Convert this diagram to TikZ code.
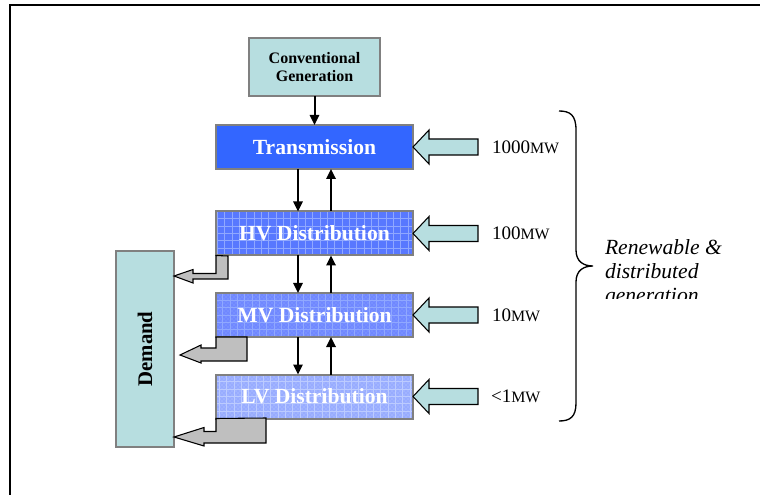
\documentclass[tikz,border=0pt]{standalone}
\usepackage{fontspec}
\setmainfont{Liberation Serif}[ItalicFont=Liberation Serif Italic, BoldFont=Liberation Serif Bold]
\usepackage{graphicx}
\usetikzlibrary{arrows.meta,patterns}

\definecolor{paleteal}{HTML}{B7DEE0}
\definecolor{transblue}{HTML}{3366FF}
\definecolor{hvblue}{HTML}{5878FF}
\definecolor{mvblue}{HTML}{7088FF}
\definecolor{lvblue}{HTML}{98ACFF}
\definecolor{gridblue}{HTML}{90A8FF}
\definecolor{framegray}{HTML}{808080}

\begin{document}
\begin{tikzpicture}[x=0.75pt, y=-0.75pt]
\tikzset{ >={Triangle[length=7.5pt,width=7pt]}, inner sep=0pt, outer sep=0pt,
  level/.style={draw=framegray, line width=1.5pt, minimum width=147.75pt, minimum height=33pt,
    text=white, font=\fontsize{16.2}{18}\selectfont\bfseries},
  paleteal box/.style={fill=paleteal, draw=framegray, line width=1.5pt},
  gridded/.style={path picture={\draw[#1, line width=0.5pt]
    (path picture bounding box.south west) grid[step=5.5pt] (path picture bounding box.north east);}},
  dotted grid/.style={path picture={
    \fill[pattern=crosshatch dots, pattern color=#1]
      (path picture bounding box.south west) rectangle (path picture bounding box.north east);
    \draw[#1, line width=0.5pt]
      (path picture bounding box.south west) grid[step=5.5pt] (path picture bounding box.north east);}},
  flow/.style={->, line width=1.5pt},
  feedin/.style={fill=paleteal, draw=black, line width=0.8pt, line join=miter},
  supply/.style={fill=gray!50, draw=black, line width=0.8pt, line join=miter},
  mwlabel/.style={anchor=west, font=\fontsize{14.3}{16}\selectfont},
}

\useasboundingbox (0,0) rectangle (760,495);
\draw [line width=1pt] (760,5) -- (10,5) -- (10,495);

%\draw [lightgray] (0,0) grid[step=37.5pt] (760,495);

\node [paleteal box, minimum width=98.25pt, minimum height=43.5pt, align=center,
       font=\fontsize{12}{13.5}\selectfont\bfseries] (CG) at (314.5,67) {Conventional\\Generation};
\node [level, fill=transblue] (T) at (314.5,147) {Transmission};
\node [level, fill=hvblue, gridded=gridblue] (HV) at (314.5,233.5) {HV Distribution};
\node [level, fill=mvblue, dotted grid=gridblue] (MV) at (314.5,315) {MV Distribution};
\node [level, fill=lvblue, dotted grid=gridblue!60!white] (LV) at (314.5,396.5) {LV Distribution};
\node [paleteal box, minimum width=43.5pt, minimum height=147pt,
       font=\fontsize{15.6}{18}\selectfont\bfseries] (D) at (145,349) {\rotatebox{90}{Demand}};

\draw [flow] (CG.south) -- (T.north);
\draw [flow] ([xshift=-12.4pt]T.south)  -- ([xshift=-12.4pt]HV.north);
\draw [flow] ([xshift=12.4pt]HV.north)  -- ([xshift=12.4pt]T.south);
\draw [flow] ([xshift=-12.4pt]HV.south) -- ([xshift=-12.4pt]MV.north);
\draw [flow] ([xshift=12.4pt]MV.north)  -- ([xshift=12.4pt]HV.south);
\draw [flow] ([xshift=-12.4pt]MV.south) -- ([xshift=-12.4pt]LV.north);
\draw [flow] ([xshift=12.4pt]LV.north)  -- ([xshift=12.4pt]MV.south);

\draw [feedin] (T.east)  -- ++(16,-17) -- ++(0,9) -- ++(49,0) -- ++(0,16) -- ++(-49,0) -- ++(0,9) -- cycle;
\draw [feedin] (HV.east) -- ++(16,-17) -- ++(0,9) -- ++(49,0) -- ++(0,16) -- ++(-49,0) -- ++(0,9) -- cycle;
\draw [feedin] (MV.east) -- ++(16,-17) -- ++(0,9) -- ++(49,0) -- ++(0,16) -- ++(-49,0) -- ++(0,9) -- cycle;
\draw [feedin] (LV.east) -- ++(16,-17) -- ++(0,9) -- ++(49,0) -- ++(0,16) -- ++(-49,0) -- ++(0,9) -- cycle;

\draw [supply] (HV.south west) -- ++(0,18) -- ++(-23,0) -- ++(0,-4) -- (D.east |- 0,276)
  -- ++(19,7) -- ++(0,-4) -- ++(35,0) -- ++(0,-23) -- cycle;
\draw [supply] (MV.south west) -- ++(0,11) -- ++(-15,0) -- ++(0,-3) -- ++(-21,10)
  -- ++(21,8) -- ++(0,-2) -- ++(46,0) -- ++(0,-24) -- cycle;
\draw [supply] (LV.south west) -- ++(0,13) -- ++(-12,0) -- ++(0,-4) -- (D.east |- 0,437)
  -- ++(30,9) -- ++(0,-3) -- ++(62,0) -- ++(0,-25) -- cycle;

\node [mwlabel] (P1) at (492,147)   {1000{\fontsize{11.9}{14}\selectfont MW}};
\node [mwlabel] (P2) at (492,233.5) {100{\fontsize{11.9}{14}\selectfont MW}};
\node [mwlabel] (P3) at (492,315)   {10{\fontsize{11.9}{14}\selectfont MW}};
\node [mwlabel] (P4) at (491,396.5) {<1{\fontsize{11.9}{14}\selectfont MW}};

\draw [line width=1pt] (559,111) .. controls (570,111) and (576,115) .. (576,130) -- (576,250)
  .. controls (576,262) and (584,266) .. (593,266) .. controls (584,266) and (576,270) .. (576,282)
  -- (576,403) .. controls (576,417) and (570,421) .. (559,421);

\begin{scope}
\clip (590,100) rectangle (760,298);
\node [anchor=north west, align=left, font=\fontsize{16.2}{18}\selectfont\itshape] (RG) at (605,240)
  {Renewable \&\\distributed\\generation};
\end{scope}

\end{tikzpicture}
\end{document}
